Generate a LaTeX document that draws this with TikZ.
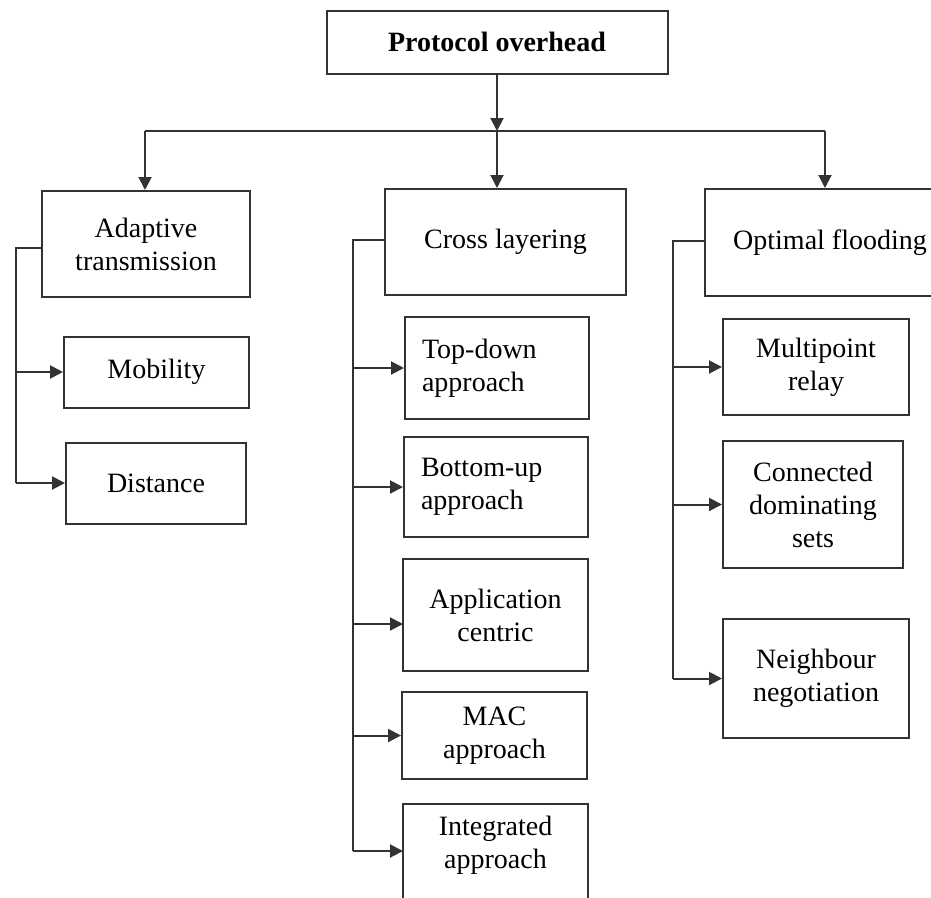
\documentclass[tikz,border=0pt]{standalone}
\usepackage{fontspec}
\setmainfont{Liberation Serif}
\usetikzlibrary{arrows.meta}
\begin{document}
\begin{tikzpicture}[x=1pt,y=-1pt,
  line/.style={draw=black!80, line width=2pt},
  arr/.style={line, -{Triangle[length=13pt,width=13pt]}},
  box/.style={draw=black!80, line width=2pt, fill=white, inner sep=0pt,
              font=\fontsize{28}{33}\selectfont, align=center},
  lbox/.style={box, align=left, text width=150pt, inner xsep=17pt},
  txt/.style={inner sep=0pt, font=\fontsize{28}{33}\selectfont, align=center}]
\useasboundingbox (0,0) rectangle (931,897);

% root
\node[box, minimum width=341pt, minimum height=63pt, font=\fontsize{28}{33}\selectfont\bfseries]
  (root) at (497,42) {Protocol overhead};

% first level
\node[box, minimum width=208pt, minimum height=106pt] (adapt) at (146,244) {Adaptive\\transmission};
\node[box, minimum width=241pt, minimum height=106pt] (cross) at (505.5,242) {Cross layering};
\node[box, minimum width=250pt, minimum height=107pt, anchor=west] (optim) at (704,242.5) {Optimal flooding};

% left branch
\node[box, minimum width=185pt, minimum height=71pt] (mob) at (156.5,372) {Mobility};
\node[box, minimum width=180pt, minimum height=81pt] (dist) at (156,483) {Distance};

% middle branch
\node[lbox, minimum height=102pt] (topdown) at (497,368) {Top-down\\approach};
\node[lbox, minimum height=100pt] (bottomup) at (496,487) {Bottom-up\\approach};
\node[box, minimum width=185pt, minimum height=112pt] (app) at (495.5,615) {Application\\centric};
\node[box, minimum width=185pt, minimum height=87pt] (mac) at (494.5,735.5) {MAC\\approach};
\node[box, minimum width=185pt, minimum height=130pt, anchor=north] (integ) at (495.5,803) {};
\node[txt] (integtxt) at (495.5,845) {Integrated\\approach};

% right branch
\node[box, minimum width=186pt, minimum height=96pt] (mpr) at (816,367) {Multipoint\\relay};
\node[box, minimum width=180pt, minimum height=127pt] (cds) at (813,504.5) {Connected\\dominating\\sets};
\node[box, minimum width=186pt, minimum height=119pt] (neigh) at (816,678.5) {Neighbour\\negotiation};

% bus and spine coordinates
\coordinate (b1) at (145,131);
\coordinate (b3) at (825,131);
\coordinate (sL) at (16,0);
\coordinate (sM) at (353,0);
\coordinate (sR) at (673,0);
\coordinate (integin) at (403,851);
\coordinate (appin) at (403,624);

% top level connectors
\draw[arr] (root.south) -- (root.south |- b1);
\draw[line] (b1) -- (b3);
\draw[arr] (b1) -- (b1 |- adapt.north);
\draw[arr] (root.south |- b1) -- (root.south |- cross.north);
\draw[arr] (b3) -- (b3 |- optim.north);

% left spine
\draw[line] ([yshift=-4pt]adapt.west) -- ([yshift=-4pt]adapt.west -| sL) -- (dist.west -| sL);
\draw[arr] (mob.west -| sL) -- (mob.west);
\draw[arr] (dist.west -| sL) -- (dist.west);

% middle spine
\draw[line] ([yshift=2pt]cross.west) -- ([yshift=2pt]cross.west -| sM) -- (integin -| sM);
\draw[arr] (topdown.west -| sM) -- (topdown.west);
\draw[arr] (bottomup.west -| sM) -- (bottomup.west);
\draw[arr] (appin -| sM) -- (appin);
\draw[arr] (mac.west -| sM) -- (mac.west);
\draw[arr] (integin -| sM) -- (integin);

% right spine
\draw[line] ([yshift=2pt]optim.west) -- ([yshift=2pt]optim.west -| sR) -- (neigh.west -| sR);
\draw[arr] (mpr.west -| sR) -- (mpr.west);
\draw[arr] (cds.west -| sR) -- (cds.west);
\draw[arr] (neigh.west -| sR) -- (neigh.west);
\end{tikzpicture}
\end{document}
